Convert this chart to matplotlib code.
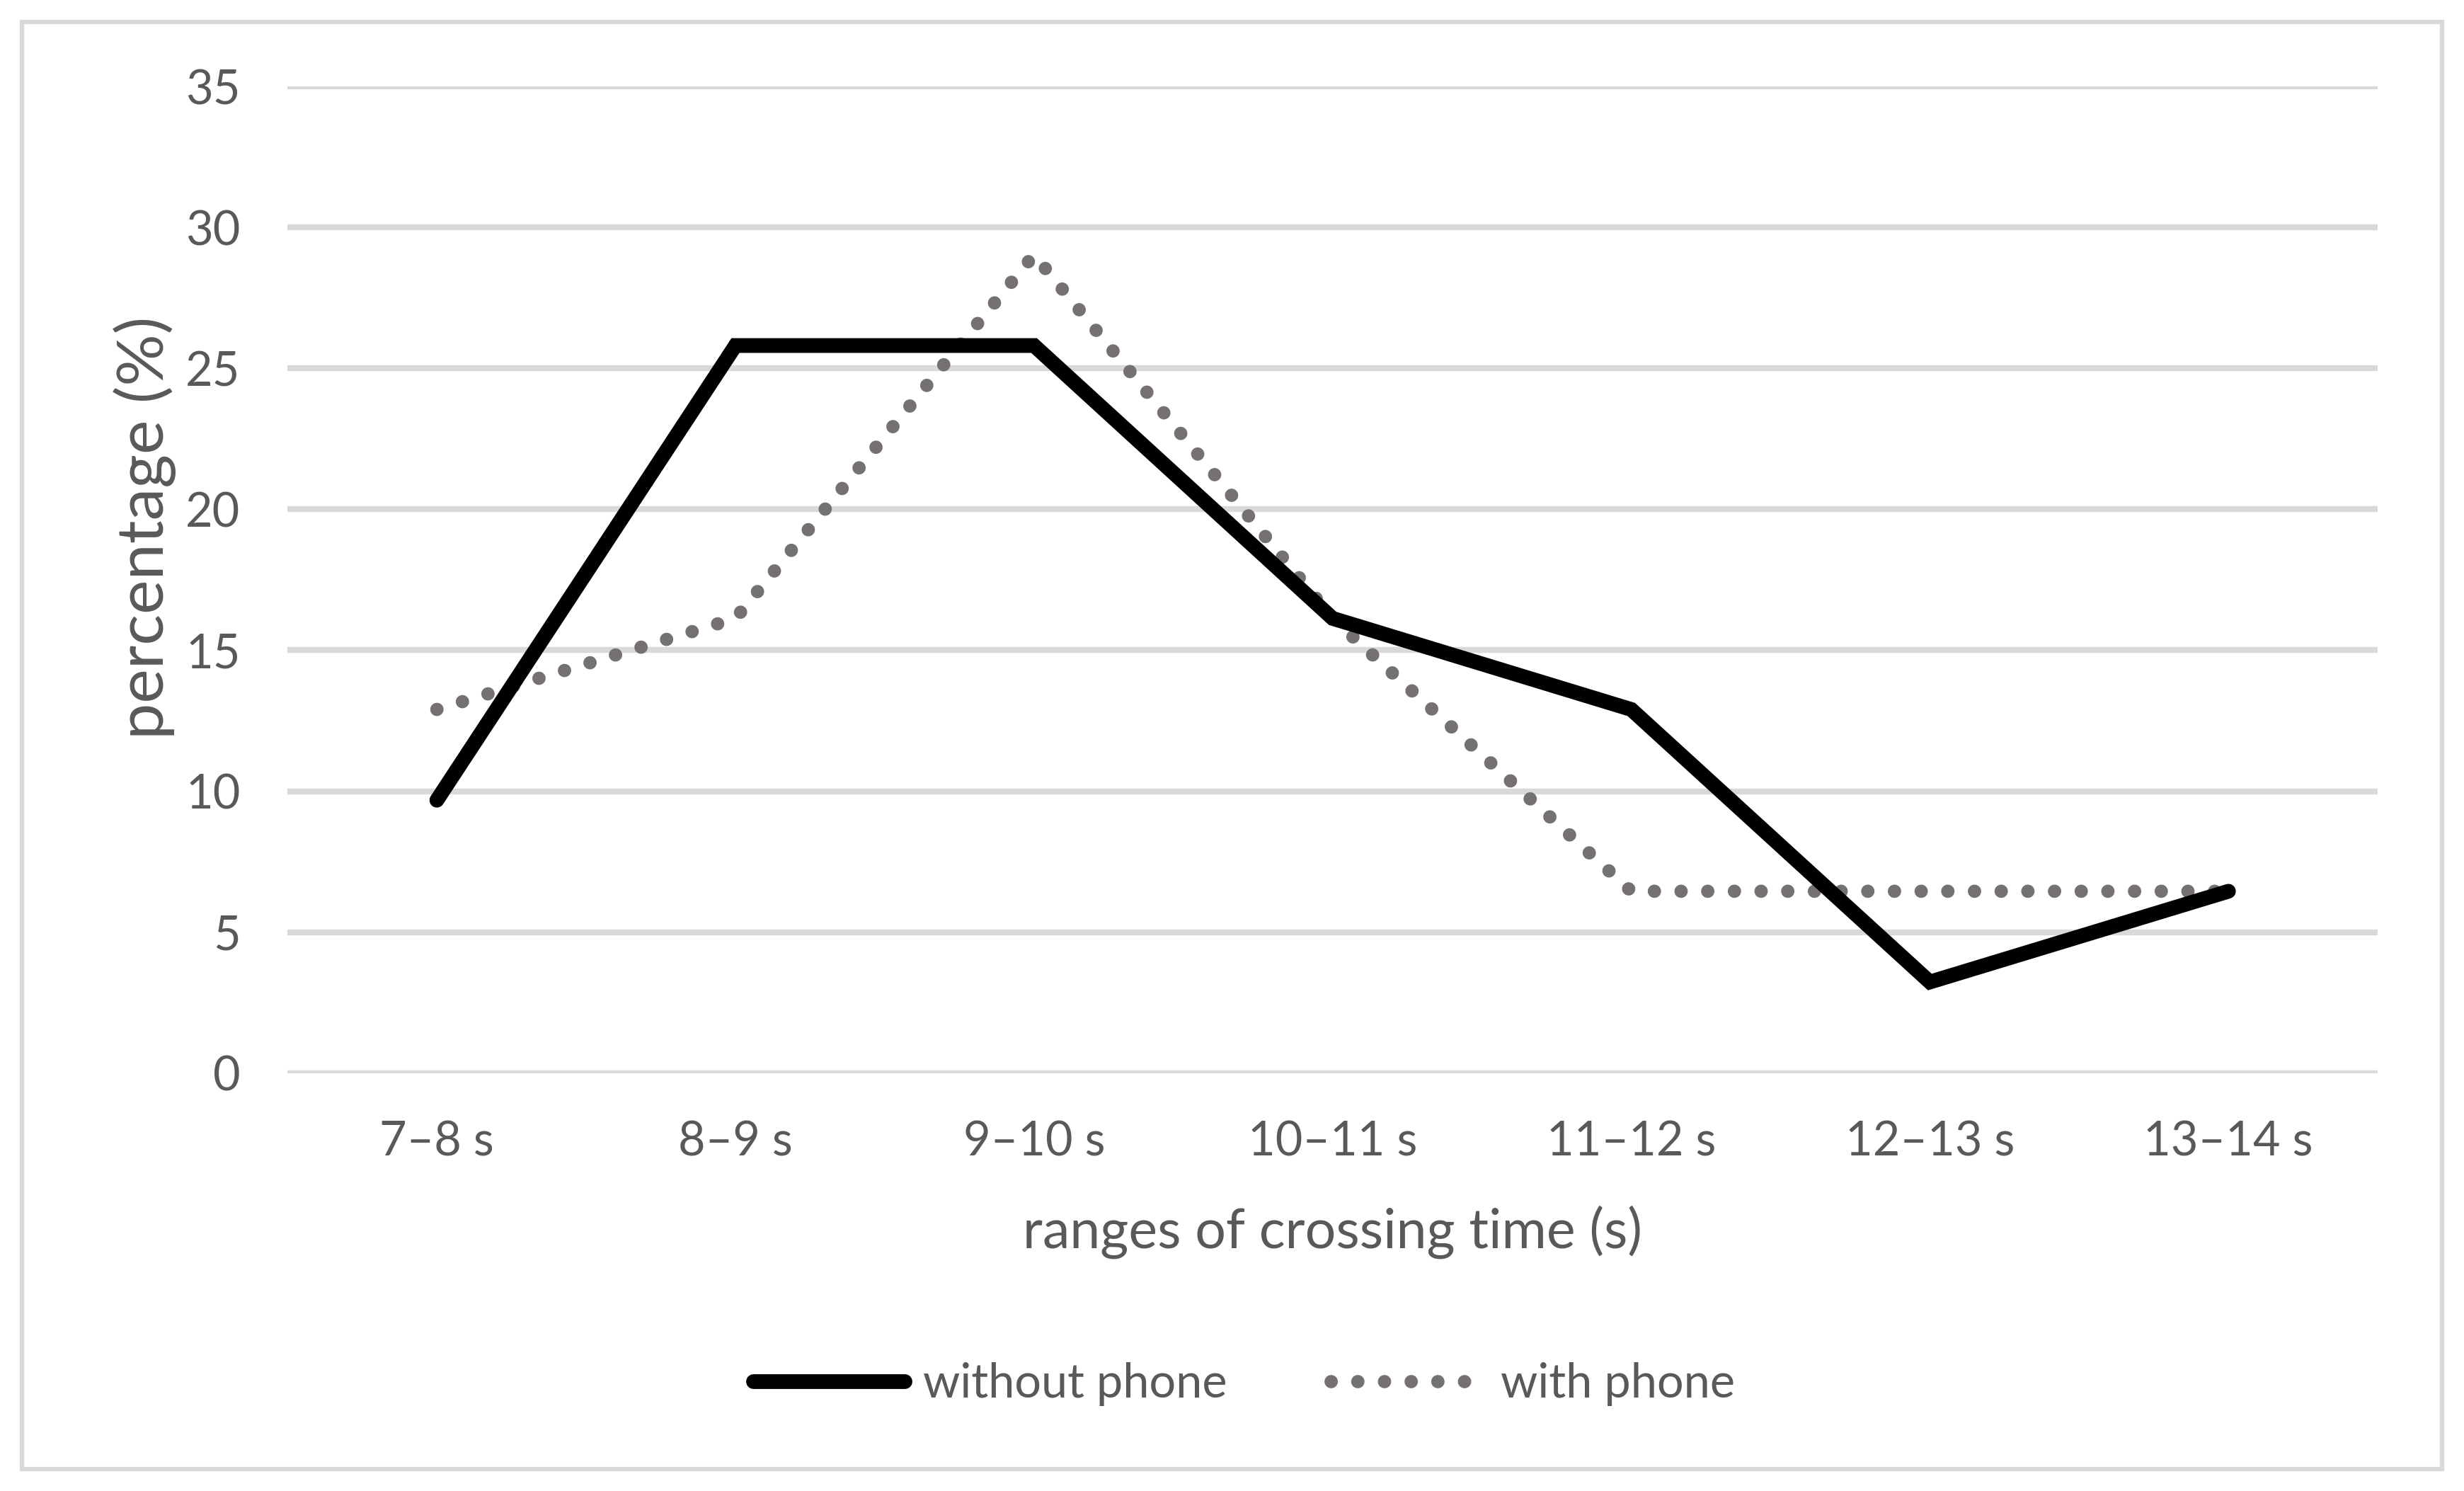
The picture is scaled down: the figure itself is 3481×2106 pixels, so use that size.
"""
Crossing time distribution, with and without phone.
Line chart of the share of pedestrians per crossing-time range.
"""

import matplotlib.pyplot as plt
from matplotlib.patches import Rectangle

# Data
categories = ['7–8 s', '8–9 s', '9–10 s', '10–11 s', '11–12 s', '12–13 s', '13–14 s']
without_phone = [9.68, 25.81, 25.81, 16.13, 12.90, 3.23, 6.45]
with_phone = [12.90, 16.13, 29.03, 16.13, 6.45, 6.45, 6.45]
y_ticks = [0, 5, 10, 15, 20, 25, 30, 35]

TEXT = '#595959'
GRID = '#D9D9D9'

plt.rcParams['font.family'] = ['Lato', 'DejaVu Sans']


def main():
    fig = plt.figure(figsize=(3481 / 300, 2106 / 300), dpi=300)
    ax = fig.add_axes([0.1167, 0.2803, 0.8483, 0.6617])

    x = range(len(categories))
    ax.plot(x, without_phone, color='black', lw=5, solid_joinstyle='miter',
            solid_capstyle='round', label='without phone', zorder=3)
    ax.plot(x, with_phone, color='#767171', lw=4.5, linestyle=(0, (0.01, 2.0)),
            dash_capstyle='round', label='with phone', zorder=2)

    ax.set_xlim(-0.5, len(categories) - 0.5)
    ax.set_ylim(0, 35)
    ax.set_yticks(y_ticks)
    ax.set_xticks(list(x))
    ax.set_xticklabels(categories)
    ax.tick_params(axis='both', length=0, labelsize=16, colors=TEXT)
    ax.tick_params(axis='y', pad=16)
    ax.tick_params(axis='x', pad=16)

    ax.grid(axis='y', color=GRID, lw=2)
    ax.set_axisbelow(True)
    for s in ax.spines.values():
        s.set_visible(False)

    ax.set_xlabel('ranges of crossing time (s)', fontsize=18.5, color=TEXT, labelpad=14)
    # y title sits a bit above the axis centre in the original
    fig.text(0.0587, 0.646, 'percentage (%)', rotation=90, fontsize=22,
             color=TEXT, ha='center', va='center')

    fig.legend(loc='center', bbox_to_anchor=(0.505, 0.0717), ncol=2, frameon=False,
               fontsize=16, labelcolor=TEXT, handlelength=3.2, handletextpad=0.4,
               columnspacing=2.2)

    # light grey chart frame
    fig.add_artist(Rectangle((31 / 3481, 31 / 2106), 1 - 62 / 3481, 1 - 62 / 2106,
                             transform=fig.transFigure, fill=False,
                             edgecolor=GRID, lw=1.5))

    fig.savefig('out.png', dpi=300)
    plt.close(fig)


if __name__ == '__main__':
    main()
